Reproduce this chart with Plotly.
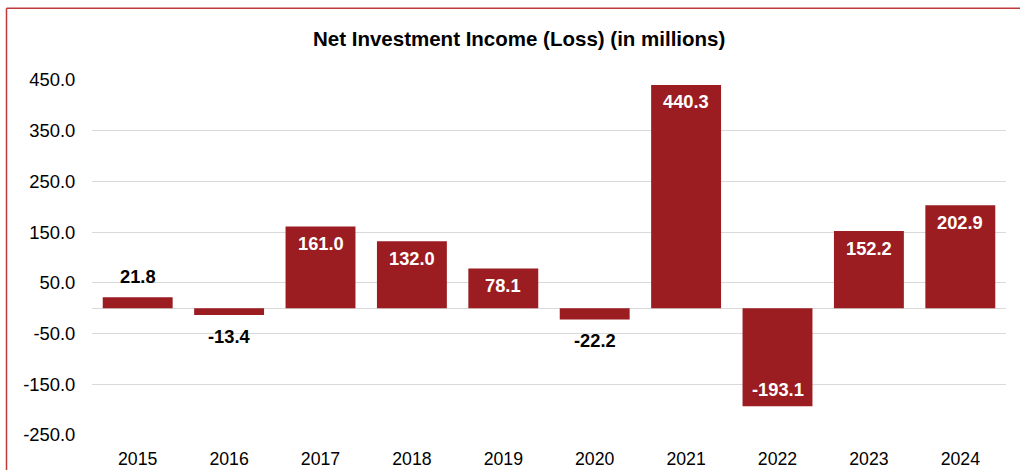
import plotly.graph_objects as go

# Net investment income (loss), in millions
years = ["2015", "2016", "2017", "2018", "2019", "2020", "2021", "2022", "2023", "2024"]
income = [21.8, -13.4, 161.0, 132.0, 78.1, -22.2, 440.3, -193.1, 152.2, 202.9]
label_inside = [False, False, True, True, True, False, True, True, True, True]

y_ticks = [450, 350, 250, 150, 50, -50, -150, -250]
y_tick_text = [f"{v:.1f}" for v in y_ticks]

BAR = "#9b1d22"
GRID = "#d9d9d9"
FRAME = "#c0393b"
FONT = "Liberation Sans, Arial, sans-serif"

fig = go.Figure(go.Bar(
    x=years,
    y=income,
    marker=dict(color=BAR, line=dict(width=0)),
    width=0.765,
    hoverinfo="x+y",
))

# value labels: white inside the bar end, black just beyond small bars
# (annotation x on a category axis is the category's serial index)
annotations = []
for idx, (val, inside) in enumerate(zip(income, label_inside)):
    sign = 1 if val >= 0 else -1
    shift = -17 * sign if inside else 21 * sign
    annotations.append(dict(
        x=idx, y=val, xref="x", yref="y",
        text=f"<b>{val:.1f}</b>",
        showarrow=False,
        xanchor="center", yanchor="middle",
        yshift=shift,
        font=dict(family=FONT, size=18.3, color="white" if inside else "black"),
    ))

annotations.append(dict(
    text="<b>Net Investment Income (Loss) (in millions)</b>",
    xref="paper", yref="paper",
    x=(519 - 92) / 914, y=(435.5 - 38) / 356,
    xanchor="center", yanchor="middle",
    showarrow=False,
    font=dict(family=FONT, size=20.5, color="black"),
))

fig.update_layout(
    width=1020,
    height=470,
    margin=dict(l=92, r=14, t=79.5, b=34.5),
    paper_bgcolor="white",
    plot_bgcolor="white",
    showlegend=False,
    font=dict(family=FONT, size=18, color="black"),
    xaxis=dict(
        type="category",
        range=[-0.5, len(years) - 0.5],
        automargin=False,
        showgrid=False,
        showline=False,
        zeroline=False,
        ticks="outside",
        ticklen=8,
        tickcolor="rgba(0,0,0,0)",
        tickfont=dict(size=17.7),
    ),
    yaxis=dict(
        range=[-250, 450],
        automargin=False,
        tickvals=y_ticks,
        ticktext=y_tick_text,
        showgrid=True,
        gridcolor=GRID,
        gridwidth=1,
        zeroline=True,
        zerolinecolor=GRID,
        zerolinewidth=1,
        showline=False,
        ticks="outside",
        ticklen=12,
        tickcolor="rgba(0,0,0,0)",
        tickfont=dict(size=18.4),
    ),
    annotations=annotations,
    shapes=[
        # outer frame: left and top edges
        dict(type="line", xref="paper", yref="paper",
             x0=(6.5 - 92) / 914, x1=(6.5 - 92) / 914,
             y0=(435.5 - 7.5) / 356, y1=(435.5 - 475) / 356,
             line=dict(color=FRAME, width=1.5)),
        dict(type="line", xref="paper", yref="paper",
             x0=(6.5 - 92) / 914, x1=(1025 - 92) / 914,
             y0=(435.5 - 7.5) / 356, y1=(435.5 - 7.5) / 356,
             line=dict(color=FRAME, width=1.5)),
    ],
)

fig.write_html("out.html")
